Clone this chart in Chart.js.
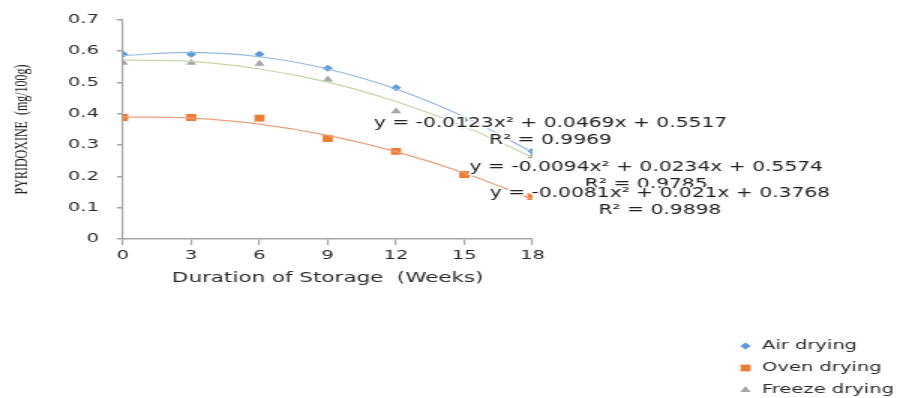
<!DOCTYPE html>
<html>
<head>
<meta charset="utf-8">
<script src="https://cdn.jsdelivr.net/npm/chart.js@4"></script>
<style>
  body { margin: 0; background: #fff; }
  #grafico { display: block; }
</style>
</head>
<body>
<canvas id="grafico" width="606" height="398" style="width:909px;height:398px"></canvas>
<script>
// semanas e valores
const weeks = [0, 3, 6, 9, 12, 15, 18];
const xTicks = [0, 3, 6, 9, 12, 15, 18];
const yTicks = [0, 0.1, 0.2, 0.3, 0.4, 0.5, 0.6, 0.7];

const airDrying = [0.59, 0.59, 0.59, 0.545, 0.483, 0.382, 0.28];
const ovenDrying = [0.388, 0.388, 0.386, 0.321, 0.28, 0.206, 0.135];
const freezeDrying = [0.563, 0.563, 0.56, 0.509, 0.408, 0.36, 0.264];

const airTrend = [0.586, 0.596, 0.582, 0.543, 0.479, 0.390, 0.277];
const ovenTrend = [0.390, 0.386, 0.367, 0.331, 0.279, 0.211, 0.127];
const freezeTrend = [0.571, 0.567, 0.543, 0.501, 0.439, 0.359, 0.261];

const seriesNames = ['Air drying', 'Oven drying', 'Freeze drying'];
const equations = [
    'y = -0.0123x² + 0.0469x + 0.5517',
    'y = -0.0094x² + 0.0234x + 0.5574',
    'y = -0.0081x² + 0.021x + 0.3768'
];
const rSquared = ['R² = 0.9969', 'R² = 0.9785', 'R² = 0.9898'];

const pts = arr => weeks.map((w, i) => ({ x: w, y: arr[i] }));

const axisColor = '#a6a6a6';
const textColor = '#2b2b2b';

// onde ficam as equações (em unidades do gráfico)
const eqAnchors = [
    { x: 18.79, y: 0.370 },
    { x: 23.0, y: 0.227 },
    { x: 23.6, y: 0.145 }
];

const equationPlugin = {
    id: 'equacoes',
    afterDatasetsDraw(chart) {
        const ctx = chart.ctx;
        const xs = chart.scales.x, ys = chart.scales.y;
        ctx.save();
        ctx.font = '13.5px "DejaVu Sans"';
        ctx.textAlign = 'center';
        ctx.textBaseline = 'middle';
        ctx.lineJoin = 'round';
        equations.forEach((eq, i) => {
            const px = xs.getPixelForValue(eqAnchors[i].x);
            const py = ys.getPixelForValue(eqAnchors[i].y);
            [[eq, py], [rSquared[i], py + 17]].forEach(([t, yy]) => {
                ctx.strokeStyle = '#fff';
                ctx.lineWidth = 3;
                ctx.strokeText(t, px, yy);
                ctx.fillStyle = '#222';
                ctx.fillText(t, px, yy);
            });
        });
        ctx.restore();
    }
};

const legendPlugin = {
    id: 'legenda',
    afterDraw(chart) {
        const ctx = chart.ctx;
        const styles = [
            { pointStyle: 'rectRot', radius: 3.5, color: '#5b9bd5' },
            { pointStyle: 'rect', radius: 4.8, color: '#ed7d31' },
            { pointStyle: 'triangle', radius: 4, color: '#a5a5a5' }
        ];
        ctx.save();
        ctx.font = '13px "DejaVu Sans"';
        ctx.textBaseline = 'middle';
        seriesNames.forEach((name, i) => {
            const y = 346 + i * 22;
            ctx.fillStyle = styles[i].color;
            ctx.strokeStyle = styles[i].color;
            Chart.helpers.drawPoint(ctx, { pointStyle: styles[i].pointStyle, radius: styles[i].radius, rotation: 0, borderWidth: 0 }, 497, y);
            ctx.fillStyle = textColor;
            ctx.fillText(name, 508, y);
        });
        ctx.restore();
    }
};

window.onload = () => {
    const ctx = document.getElementById('grafico').getContext('2d');

    new Chart(ctx, {
        type: 'line',
        data: {
            datasets: [
                { label: 'trend air', data: pts(airTrend), borderColor: '#95b8e3', borderWidth: 1.2, pointRadius: 0, tension: 0.4, fill: false },
                { label: 'trend oven', data: pts(ovenTrend), borderColor: '#e9a07e', borderWidth: 1.2, pointRadius: 0, tension: 0.4, fill: false },
                { label: 'trend freeze', data: pts(freezeTrend), borderColor: '#c4d8a8', borderWidth: 1.2, pointRadius: 0, tension: 0.4, fill: false },
                { label: seriesNames[0], data: pts(airDrying), showLine: false, pointStyle: 'rectRot', pointRadius: 3.5, backgroundColor: '#5b9bd5', borderColor: '#5b9bd5', borderWidth: 0 },
                { label: seriesNames[1], data: pts(ovenDrying), showLine: false, pointStyle: 'rect', pointRadius: 4.8, backgroundColor: '#ed7d31', borderColor: '#ed7d31', borderWidth: 0 },
                { label: seriesNames[2], data: pts(freezeDrying), showLine: false, pointStyle: 'triangle', pointRadius: 4, backgroundColor: '#a5a5a5', borderColor: '#a5a5a5', borderWidth: 0 }
            ]
        },
        options: {
            responsive: false,
            devicePixelRatio: 1,
            animation: false,
            layout: { padding: { left: 0, right: 251, top: 16, bottom: 109 } },
            plugins: {
                legend: { display: false },
                tooltip: { enabled: false }
            },
            scales: {
                x: {
                    type: 'linear',
                    min: 0,
                    max: 18,
                    afterBuildTicks: s => { s.ticks = xTicks.map(v => ({ value: v })); },
                    afterFit: s => { s.height = 50; },
                    border: { color: axisColor, width: 1.5 },
                    grid: { drawOnChartArea: false, color: axisColor, tickLength: 6, lineWidth: 1.2 },
                    ticks: { color: textColor, font: { family: 'DejaVu Sans', size: 13 }, padding: 3, maxRotation: 0 },
                    title: { display: true, text: 'Duration of Storage  (Weeks)', color: textColor, font: { family: 'DejaVu Sans', size: 14.3 }, padding: { top: 0, bottom: 2 } }
                },
                y: {
                    min: 0,
                    max: 0.7,
                    afterBuildTicks: s => { s.ticks = yTicks.map(v => ({ value: v })); },
                    afterFit: s => { s.width = 82; },
                    border: { color: axisColor, width: 1.2 },
                    grid: { drawOnChartArea: false, color: axisColor, tickLength: 4, lineWidth: 1.5 },
                    ticks: { color: textColor, font: { family: 'DejaVu Sans', size: 13 }, padding: 12, callback: v => String(+v.toFixed(1)) },
                    title: { display: true, text: 'PYRIDOXINE  (mg/100g)', color: '#222', font: { family: 'Liberation Serif', size: 12 }, padding: { top: 7.5, bottom: 0 } }
                }
            }
        },
        plugins: [equationPlugin, legendPlugin]
    });
};
</script>
</body>
</html>
